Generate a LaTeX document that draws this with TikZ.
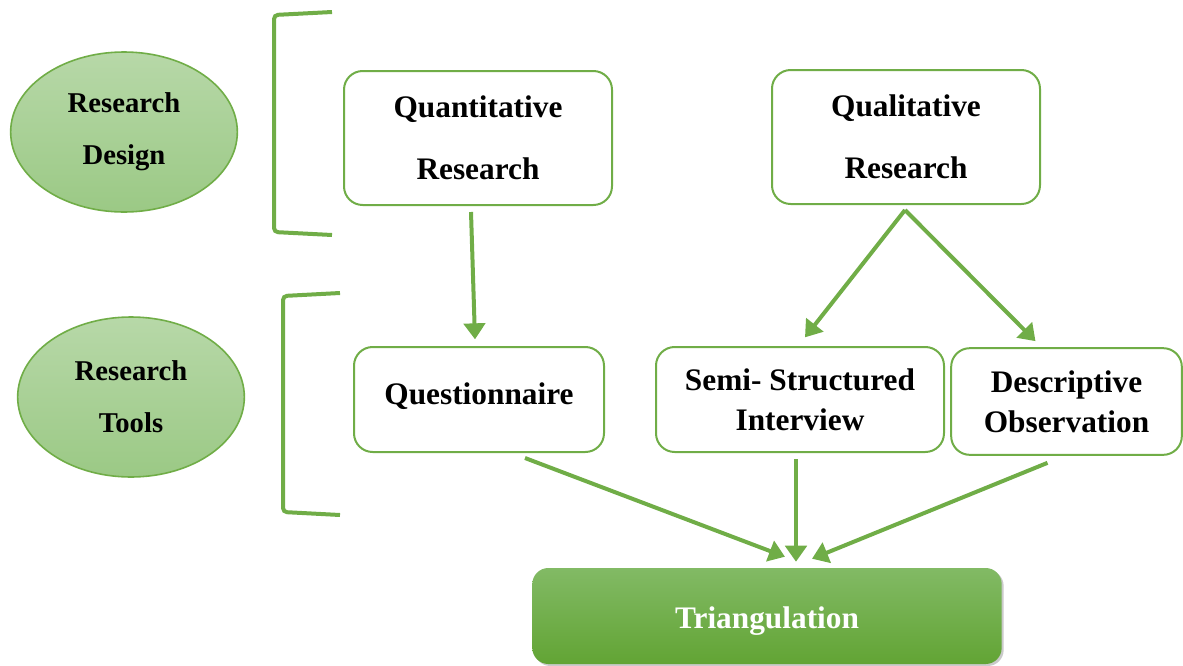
\documentclass[tikz,border=0pt]{standalone}
\usepackage{fontspec}
\setmainfont{Liberation Serif}
\usetikzlibrary{arrows.meta,shapes.geometric,shadows,calc}
\definecolor{leaf}{HTML}{70AD47}
\definecolor{ellTop}{HTML}{B7D8A8}
\definecolor{ellBot}{HTML}{9BC985}
\definecolor{triTop}{HTML}{82BA65}
\definecolor{triBot}{HTML}{62A434}
\tikzset{
  oval/.style={ellipse, draw=leaf, line width=1.2pt, top color=ellTop, bottom color=ellBot,
    minimum width=170pt, minimum height=120pt, inner sep=0pt, align=center,
    font=\bfseries\fontsize{21.5}{39}\selectfont},
  stepbox/.style={draw=leaf, line width=1.5pt, rounded corners=14pt, fill=white,
    inner sep=0pt, align=center, font=\bfseries\fontsize{23.5}{46.5}\selectfont},
  tightbox/.style={stepbox, font=\bfseries\fontsize{23.5}{30}\selectfont},
  resultbox/.style={rounded corners=12pt, top color=triTop, bottom color=triBot, draw=none,
    inner sep=0pt, text=white, font=\bfseries\fontsize{23.5}{28}\selectfont,
    text height=26pt, text depth=8pt,
    drop shadow={shadow xshift=1.5pt, shadow yshift=-1.5pt, opacity=0.35, fill=black!60}},
  flow/.style={draw=leaf, line width=3pt, -{Triangle[length=12pt,width=16pt]}},
  brace/.style={draw=leaf, line width=3pt, rounded corners=3pt}
}
\begin{document}
\begin{tikzpicture}[x=0.75pt,y=-0.75pt]
\useasboundingbox (0,0) rectangle (1183,665);

% stage labels on the left
\node[oval] (design) at (124,132) {Research\\Design};
\node[oval] (tools) at (131,397) {Research\\Tools};

% brackets grouping each stage
\draw[brace] (332,12) -- (274,15) -- (274,232) -- (332,235);
\draw[brace] (340,293) -- (283,296) -- (283,512) -- (340,515);

% research approaches
\node[stepbox, minimum width=201pt, minimum height=100.5pt] (quant) at (478,138) {Quantitative\\Research};
\node[stepbox, minimum width=201pt, minimum height=100.5pt] (qual) at (906,137) {Qualitative\\Research};

% data collection tools
\node[stepbox, minimum width=187.5pt, minimum height=78.75pt, text height=14pt, text depth=7pt] (quest) at (479,399.5) {Questionnaire};
\node[tightbox, minimum width=216pt, minimum height=78.75pt] (semi) at (800,399.5) {Semi- Structured\\Interview};
\node[tightbox, minimum width=173pt, minimum height=80pt] (desc) at (1066.5,401.5) {Descriptive\\Observation};

% combined result
\node[resultbox, minimum width=352pt, minimum height=72pt] (tri) at (767,616) {Triangulation};

% connectors
\draw[flow] ([xshift=-5.25pt,yshift=-4.5pt]quant.south) -- ([xshift=-3pt,yshift=5pt]quest.north);
\draw[flow] ([xshift=-0.75pt,yshift=-3.75pt]qual.south) -- ([xshift=3.75pt,yshift=6.5pt]semi.north);
\draw[flow] ([xshift=-0.75pt,yshift=-3.75pt]qual.south) -- ([xshift=-23.25pt,yshift=4.5pt]desc.north);
\draw[flow] ([xshift=34.5pt,yshift=-3.75pt]quest.south) -- ([xshift=13.5pt,yshift=8.25pt]tri.north);
\draw[flow] ([xshift=-3pt,yshift=-4.5pt]semi.south) -- ([xshift=21.75pt,yshift=4.5pt]tri.north);
\draw[flow] ([xshift=-14.25pt,yshift=-5.25pt]desc.south) -- ([xshift=33.75pt,yshift=6.75pt]tri.north);
\end{tikzpicture}
\end{document}
